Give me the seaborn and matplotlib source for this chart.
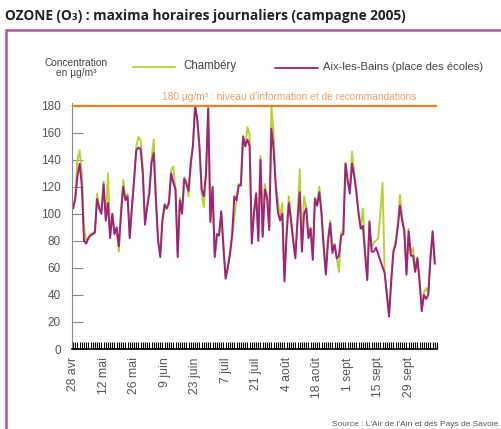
import numpy as np
import pandas as pd
import matplotlib
matplotlib.use("Agg")
import matplotlib.pyplot as plt
import seaborn as sns
from matplotlib.lines import Line2D
from matplotlib.patches import Rectangle

# ---- data (daily maxima, µg/m3), day 0 = 28 avril 2005 ----
aix = [104, 111, 128, 137, 121, 80, 78, 82, 84, 85,
       86, 111, 104, 100, 122, 95, 108, 82, 100, 85,
       90, 76, 100, 120, 110, 113, 82, 105, 125, 147,
       149, 148, 130, 92, 105, 115, 138, 145, 110, 80,
       68, 95, 107, 104, 108, 130, 123, 118, 68, 110,
       100, 126, 122, 117, 137, 150, 180, 170, 150, 118,
       113, 130, 178, 94, 120, 68, 85, 84, 102, 75,
       52, 60, 70, 85, 113, 110, 121, 121, 157, 150,
       155, 150, 78, 100, 115, 80, 140, 83, 118, 112,
       88, 163, 148, 120, 101, 95, 100, 50, 85, 108,
       95, 80, 67, 95, 116, 72, 100, 104, 82, 89,
       66, 111, 106, 116, 100, 75, 55, 80, 93, 71,
       77, 67, 69, 84, 85, 137, 125, 115, 137, 128,
       116, 100, 89, 91, 70, 51, 94, 72, 72, 75,
       np.nan, np.nan, np.nan, 56, 40, 24, 50, 72, 77, 90,
       106, 95, 87, 55, 87, 69, 69, 57, 67, 50,
       28, 40, 37, 40, 67, 87, 63]
chambery = [104, 113, 140, 147, 130, 90, 80, 82, 85, 86,
            87, 115, 104, 102, 124, 96, 130, 85, 100, 86,
            88, 72, 103, 125, 112, 115, 84, 105, 126, 150,
            157, 154, 132, 94, 107, 118, 140, 155, 112, 82,
            70, 97, 103, 104, 110, 132, 135, 118, 70, 112,
            102, 127, 124, 113, 138, 152, 180, 168, 148, 115,
            105, 128, 178, 96, 118, 70, 82, 86, 100, 77,
            54, 62, 72, 82, 97, 110, 122, 122, 158, 150,
            164, 158, 85, 102, 116, 82, 143, 85, 122, 114,
            90, 180, 160, 122, 110, 97, 108, 52, 88, 113,
            98, 82, 70, 98, 133, 75, 113, 104, 84, 90,
            70, 112, 108, 120, 102, 78, 57, 82, 95, 73,
            78, 68, 57, 86, 87, 138, 124, 118, 146, 130,
            118, 102, 90, 104, 72, 53, 95, 74, 79, 80,
            82, 100, 123, 56, 42, 26, 52, 73, 80, 92,
            114, 97, 89, 57, 89, 70, 75, 59, 68, 52,
            30, 42, 45, 42, 69, 87, 64]
tick_days = [0, 14, 28, 42, 56, 70, 84, 98, 112, 126, 140, 154]
tick_labels = ["28 avr", "12 mai", "26 mai", "9 juin", "23 juin", "7 juil",
               "21 juil", "4 août", "18 août", "1 sept", "15 sept", "29 sept"]
y_ticks = [0, 20, 40, 60, 80, 100, 120, 140, 160, 180]
threshold = 180
stations = ["Chambéry", "Aix-les-Bains (place des écoles)"]
colors = {"Chambéry": "#b6d235", "Aix-les-Bains (place des écoles)": "#a3207f"}

n = len(aix)
days = np.arange(n)
df = pd.concat([
    pd.DataFrame({"day": days, "value": chambery, "station": stations[0]}),
    pd.DataFrame({"day": days, "value": aix, "station": stations[1]}),
], ignore_index=True)

sns.set_style("white")
plt.rcParams["font.family"] = ["Liberation Sans", "DejaVu Sans"]

fig = plt.figure(figsize=(5.01, 4.29), dpi=100)
ax = fig.add_axes([72 / 501, 1 - 349 / 429, (437 - 72) / 501, (349 - 103) / 429])

sns.lineplot(data=df, x="day", y="value", hue="station", palette=colors,
             hue_order=stations, linewidth=1.4, ax=ax, legend=False,
             estimator=None, sort=False)

ax.axhline(threshold, color="#f07f22", lw=1.6, zorder=5)
ax.text(0.595, threshold + 2.5,
        "180 µg/m³ : niveau d'information et de recommandations",
        transform=ax.get_yaxis_transform(), ha="center", va="bottom",
        color="#f0a060", fontsize=7.3)

ax.set_xlim(-0.5, n)
ax.set_ylim(0, 182)
ax.set_yticks(y_ticks)
ax.set_xticks(tick_days)
ax.set_xticklabels(tick_labels, rotation=90, fontsize=8.8, color="#555555")
ax.set_xticks(np.arange(0, n + 1), minor=True)
ax.tick_params(axis="x", which="both", bottom=True, direction="in", length=5,
               width=0.8, color="black", pad=6)
ax.tick_params(axis="y", which="major", left=True, direction="in", length=8,
               width=0.8, color="#888888", labelsize=8.5, labelcolor="#555555", pad=8)
ax.set_xlabel("")
ax.set_ylabel("")
for s in ["top", "right"]:
    ax.spines[s].set_visible(False)
ax.spines["left"].set_color("#888888")
ax.spines["left"].set_linewidth(0.8)
ax.spines["bottom"].set_color("black")
ax.spines["bottom"].set_linewidth(1.2)

# title and frame
fig.text(5 / 501, 1 - 20 / 429, "OZONE (O₃) : maxima horaires journaliers (campagne 2005)",
         fontsize=9.8, fontweight="bold", color="#222222", va="baseline",
         family=["Open Sans", "DejaVu Sans"])
fig.patches.append(Rectangle((6 / 501, -0.05), 1.0, 1 - 30 / 429 + 0.05,
                             transform=fig.transFigure, fill=False,
                             edgecolor="#b0579f", linewidth=1.8))

# legend header
fig.text(76 / 501, 1 - 68 / 429, "Concentration\nen µg/m³", ha="center", va="center",
         fontsize=7.3, color="#444444", linespacing=1.1)
fig.lines.append(Line2D([133 / 501, 175 / 501], [1 - 67 / 429] * 2,
                        transform=fig.transFigure, color=colors[stations[0]], lw=1.3))
fig.text(183 / 501, 1 - 66 / 429, stations[0], ha="left", va="center",
         fontsize=8.3, color="#444444")
fig.lines.append(Line2D([275 / 501, 318 / 501], [1 - 68 / 429] * 2,
                        transform=fig.transFigure, color=colors[stations[1]], lw=1.3))
fig.text(323 / 501, 1 - 67 / 429, stations[1], ha="left", va="center",
         fontsize=8.1, color="#444444")

fig.text(498 / 501, 1 - 424 / 429, "Source : L'Air de l'Ain et des Pays de Savoie",
         ha="right", va="center", fontsize=6, color="#555555")

fig.savefig("out.png", dpi=100)
